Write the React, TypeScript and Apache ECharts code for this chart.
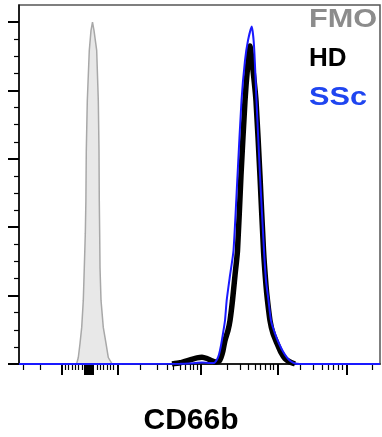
import React, { useEffect, useRef } from "react";
import * as echarts from "echarts";

// x: logicle display channel (0–1000), y: % of max
const fmoX = [127.4, 146.8, 159.8, 164.3, 169.0, 173.7, 178.1, 180.9, 183.7, 185.3, 186.4, 189.2, 194.7, 199.4, 203.6, 207.8, 215.2, 219.7, 221.6, 222.4, 223.5, 224.4, 227.2, 233.5, 241.0, 247.4, 256.8, 268.7, 285.3];
const fmoY = [0, 0.06, 0.15, 1.9, 6.0, 10.7, 18.6, 28.2, 38.2, 47.8, 62.4, 77.0, 91.7, 97.5, 100, 97.5, 91.7, 77.0, 62.4, 47.8, 38.2, 28.2, 18.6, 10.7, 6.0, 1.9, 0.15, 0.06, 0];

const hdX = [423.8, 446.0, 473.7, 493.1, 506.9, 520.8, 534.6, 545.7, 554.0, 559.5, 565.1, 570.6, 578.9, 584.5, 591.4, 598.3, 605.3, 614.9, 626.0, 632.9, 639.8, 646.8, 656.5, 667.5, 677.3, 684.2, 688.3, 695.3, 703.6, 714.7, 725.8, 736.8, 750.7, 764.6];
const hdY = [0, 0.35, 1.2, 1.8, 2.0, 1.6, 0.9, 0.6, 0.8, 1.9, 3.95, 6.87, 9.8, 12.7, 18.6, 25.9, 33.2, 55.1, 77.0, 86.5, 93.0, 87.3, 77.0, 55.1, 33.2, 23.0, 18.6, 12.7, 8.9, 6.0, 3.36, 1.61, 0.58, 0];

const sscX = [0, 446.0, 487.6, 506.9, 529.1, 540.2, 548.5, 554.0, 559.5, 565.1, 570.6, 575.3, 584.5, 594.2, 605.3, 616.3, 626.0, 634.3, 644.6, 651.0, 657.9, 667.6, 678.7, 684.2, 691.1, 698.1, 709.2, 720.2, 731.3, 742.4, 753.5, 764.6, 778.4, 1000];
const sscY = [0, 0.06, 0.29, 0.44, 0.29, 0.29, 1.32, 2.78, 5.41, 8.92, 12.7, 18.6, 25.9, 33.2, 55.1, 77.0, 88.7, 94.6, 98.7, 93.1, 77.0, 55.1, 33.2, 24.4, 18.6, 12.7, 8.9, 6.0, 3.65, 1.9, 0.73, 0.15, 0, 0];

const xMajorTicks = [117.7, 182.8, 185.6, 188.4, 191.1, 193.9, 196.7, 199.4, 202.2, 205.0, 274.2, 504.2, 717.5, 908.6];
const xMinorTicks = [11.9, 58.2, 127.4, 135.7, 146.8, 155.1, 163.4, 174.5, 216.1, 224.4, 232.7, 243.8, 252.1, 260.4, 335.2, 382.3, 410.0, 426.6, 446.0, 459.8, 473.7, 482.0, 493.1, 576.2, 612.2, 634.3, 653.7, 667.6, 681.4, 695.3, 703.6, 778.4, 814.4, 839.3, 855.9, 869.8, 883.7, 894.7, 977.8];
const yMajorTicks = [0, 20, 40, 60, 80, 100];
const yMinorTicks = [5, 10, 15, 25, 30, 35, 45, 50, 55, 65, 70, 75, 85, 90, 95];

const legendNames = ["FMO", "HD", "SSc"];
const legendColors = ["#8c8c8c", "#000000", "#1f45f0"];
const axisTitle = "CD66b";

const pairs = (xs: number[], ys: number[]) => xs.map((x, i) => [x, ys[i]]);

export default function App() {
  const ref = useRef<HTMLDivElement>(null);
  useEffect(() => {
    if (!ref.current) return;
    const chart = echarts.init(ref.current, null, { renderer: "svg" });
    const font = "'Liberation Sans', Arial, sans-serif";
    const baseX = {
      type: "value" as const,
      min: 0,
      max: 1000,
      position: "bottom" as const,
      splitLine: { show: false },
      axisLabel: { show: false },
    };
    const baseY = {
      type: "value" as const,
      min: 0,
      max: 105,
      position: "left" as const,
      splitLine: { show: false },
      axisLabel: { show: false },
    };
    const legendScale = [1.18, 1, 1.18];
    chart.setOption({
      animation: false,
      grid: {
        left: 19,
        right: 2,
        top: 5,
        bottom: 73,
        show: true,
        borderColor: "#555",
        borderWidth: 1.5,
        backgroundColor: "#fff",
      },
      xAxis: [
        {
          ...baseX,
          axisLine: { show: true, lineStyle: { color: "#000", width: 1.5 } },
          axisTick: { show: true, length: 11, lineStyle: { color: "#000", width: 2 }, customValues: xMajorTicks },
        },
        {
          ...baseX,
          axisLine: { show: false },
          axisTick: { show: true, length: 6, lineStyle: { color: "#000", width: 1.2 }, customValues: xMinorTicks },
        },
      ],
      yAxis: [
        {
          ...baseY,
          axisLine: { show: true, lineStyle: { color: "#000", width: 1.5 } },
          axisTick: { show: true, length: 11, lineStyle: { color: "#000", width: 2 }, customValues: yMajorTicks },
        },
        {
          ...baseY,
          axisLine: { show: false },
          axisTick: { show: true, length: 5, lineStyle: { color: "#000", width: 1.2 }, customValues: yMinorTicks },
        },
      ],
      series: [
        {
          type: "line",
          name: legendNames[0],
          data: pairs(fmoX, fmoY),
          showSymbol: false,
          lineStyle: { color: "#a8a8a8", width: 1.5 },
          areaStyle: { color: "#e8e8e8", opacity: 1 },
          z: 2,
        },
        {
          type: "line",
          name: legendNames[1],
          data: pairs(hdX, hdY),
          showSymbol: false,
          smooth: 0.2,
          lineStyle: { color: "#000", width: 5.5 },
          z: 3,
        },
        {
          type: "line",
          name: legendNames[2],
          data: pairs(sscX, sscY),
          showSymbol: false,
          smooth: 0.2,
          lineStyle: { color: "#1a1aff", width: 2 },
          z: 4,
        },
      ],
      graphic: [
        ...legendNames.map((n, i) => ({
          type: "text",
          x: 309,
          y: 5 + i * 39,
          scaleX: legendScale[i],
          style: { text: n, fill: legendColors[i], font: `bold 26px ${font}`, textAlign: "left", textVerticalAlign: "top" },
          z: 10,
        })),
        {
          type: "text",
          left: "center",
          top: 403,
          style: { text: axisTitle, fill: "#000", font: `bold 30px ${font}` },
        },
      ],
    });
    return () => chart.dispose();
  }, []);
  return <div ref={ref} style={{ position: "fixed", left: 0, top: 0, width: 382, height: 437 }} />;
}
